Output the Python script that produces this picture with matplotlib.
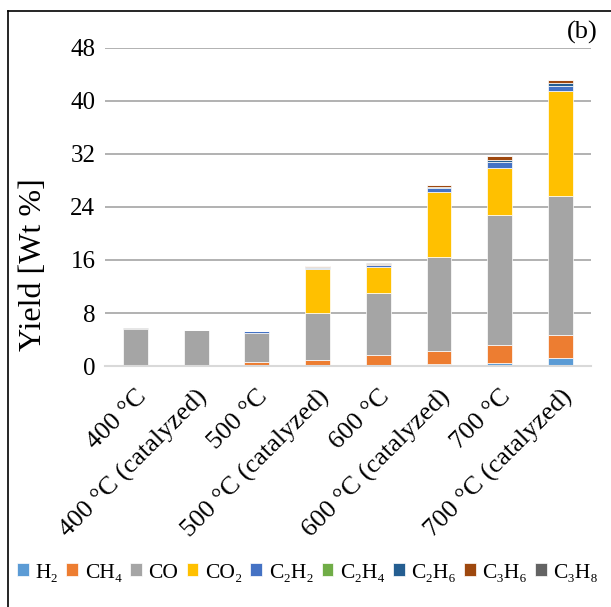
import numpy as np
import matplotlib
matplotlib.use("Agg")
import matplotlib.pyplot as plt
from matplotlib.lines import Line2D

plt.rcParams['font.family'] = ['Liberation Serif', 'DejaVu Serif']

# gas yields, wt %
categories = ["400 °C", "400 °C (catalyzed)", "500 °C", "500 °C (catalyzed)",
              "600 °C", "600 °C (catalyzed)", "700 °C", "700 °C (catalyzed)"]
h2   = [0.00, 0.00, 0.00, 0.00, 0.05, 0.30, 0.50, 1.15]
ch4  = [0.05, 0.00, 0.65, 0.90, 1.55, 1.90, 2.70, 3.55]
co   = [5.55, 5.40, 4.40, 7.05, 9.40, 14.30, 19.60, 21.00]
co2  = [0.00, 0.00, 0.00, 6.65, 3.90, 9.80, 7.10, 15.80]
c2h2 = [0.00, 0.10, 0.25, 0.20, 0.30, 0.50, 0.90, 0.80]
c2h4 = [0.00, 0.00, 0.00, 0.00, 0.00, 0.00, 0.00, 0.00]
c2h6 = [0.00, 0.00, 0.00, 0.10, 0.10, 0.20, 0.25, 0.35]
c3h6 = [0.00, 0.00, 0.00, 0.20, 0.15, 0.30, 0.65, 0.55]
c3h8 = [0.10, 0.00, 0.00, 0.00, 0.10, 0.00, 0.00, 0.00]

series = [
    ("H₂", h2, "#5B9BD5"),
    ("CH₄", ch4, "#ED7D31"),
    ("CO", co, "#A5A5A5"),
    ("CO₂", co2, "#FFC000"),
    ("C₂H₂", c2h2, "#4472C4"),
    ("C₂H₄", c2h4, "#70AD47"),
    ("C₂H₆", c2h6, "#255E91"),
    ("C₃H₆", c3h6, "#9E480E"),
    ("C₃H₈", c3h8, "#636363"),
]

fig = plt.figure(figsize=(6.11, 6.07), dpi=100)
ax = fig.add_axes([0.172, 0.397, 0.795, 0.524])

x = np.arange(len(categories))
bottom = np.zeros(len(categories))
for name, vals, col in series:
    vals = np.array(vals)
    ax.bar(x, vals, 0.41, bottom=bottom, color=col, label=name,
           edgecolor="white", linewidth=0.5, zorder=3)
    bottom += vals

ax.set_xlim(-0.5, len(categories) - 0.5)
ax.set_ylim(0, 48)
ax.set_yticks(np.arange(0, 49, 8))
ax.tick_params(axis="y", length=0, pad=7, labelsize=18)
ax.tick_params(axis="x", length=0, pad=14, labelsize=19)
ax.set_xticks(x)
ax.set_xticklabels(categories, rotation=45, ha="right", rotation_mode="anchor")
ax.grid(axis="y", color="#ababab", linewidth=1.3, zorder=0)
for s in ["top", "right", "left"]:
    ax.spines[s].set_visible(False)
ax.spines["bottom"].set_color("#d9d9d9")
ax.spines["bottom"].set_linewidth(1.5)
ax.spines["bottom"].set_zorder(4)
ax.set_ylabel("Yield [Wt %]", fontsize=23)
ax.yaxis.set_label_coords(-0.118, 0.32)

fig.text(0.978, 0.947, "(b)", ha="right", va="center", fontsize=19)

fig.legend(loc="center left", bbox_to_anchor=(0.028, 0.056), ncol=9, frameon=False,
           fontsize=15.5, handlelength=0.55, handleheight=0.55, handletextpad=0.3,
           columnspacing=0.38, borderaxespad=0, borderpad=0)

# outer frame
fig.add_artist(Line2D([8 / 611, 1], [1 - 11 / 607, 1 - 11 / 607],
                      transform=fig.transFigure, color="black", linewidth=1.2))
fig.add_artist(Line2D([8 / 611, 8 / 611], [0, 1 - 11 / 607],
                      transform=fig.transFigure, color="black", linewidth=1.2))

fig.savefig("out.png", dpi=100)
